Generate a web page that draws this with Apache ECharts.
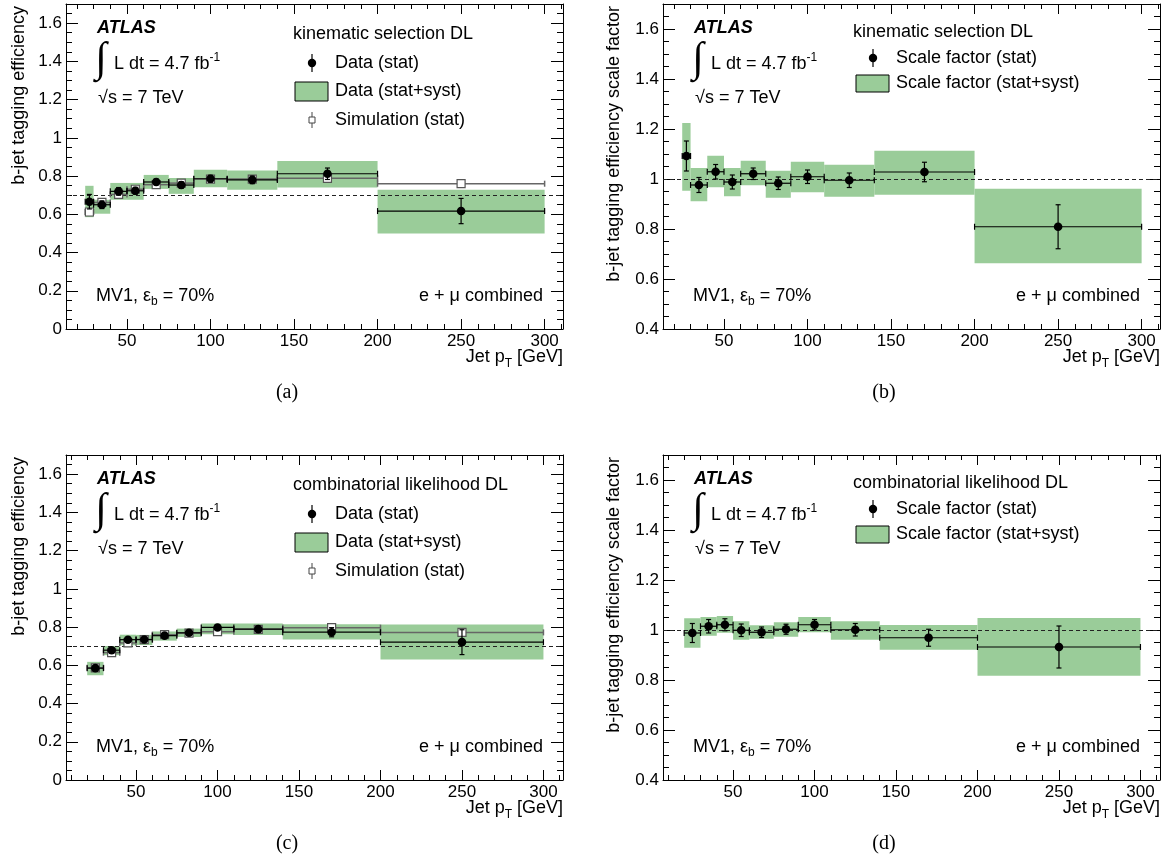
<!DOCTYPE html>
<html>
<head>
<meta charset="utf-8">
<script src="https://cdn.jsdelivr.net/npm/echarts@6.0.0/dist/echarts.min.js"></script>
<style>
  html, body { margin: 0; padding: 0; background: #fff; }
  #chart { width: 1172px; height: 865px; }
</style>
</head>
<body>
<div id="chart"></div>
<script>
// ---- data ----
// kinematic selection DL bins
var binLoKin = [25, 30, 40, 50, 60, 75, 90, 110, 140, 200];
var binHiKin = [30, 40, 50, 60, 75, 90, 110, 140, 200, 300];
var ptKin    = [27.5, 35, 45, 55, 67.5, 82.5, 100, 125, 170, 250];

var effKin       = [0.666, 0.650, 0.720, 0.723, 0.769, 0.753, 0.786, 0.780, 0.812, 0.617];
var effKinErr    = [0.038, 0.020, 0.020, 0.018, 0.015, 0.017, 0.018, 0.020, 0.030, 0.066];
var effKinSystLo = [0.585, 0.603, 0.676, 0.676, 0.733, 0.707, 0.742, 0.728, 0.740, 0.500];
var effKinSystHi = [0.749, 0.676, 0.764, 0.764, 0.806, 0.790, 0.833, 0.829, 0.879, 0.729];
var simKin       = [0.612, 0.662, 0.704, 0.731, 0.755, 0.763, 0.784, 0.784, 0.788, 0.760];
var simKinErr    = [0.010, 0.008, 0.008, 0.008, 0.007, 0.008, 0.008, 0.009, 0.010, 0.010];

var sfKin       = [1.092, 0.976, 1.029, 0.988, 1.021, 0.983, 1.009, 0.995, 1.028, 0.809];
var sfKinErr    = [0.060, 0.030, 0.029, 0.028, 0.023, 0.025, 0.027, 0.029, 0.039, 0.088];
var sfKinSystLo = [0.953, 0.911, 0.967, 0.931, 0.975, 0.925, 0.947, 0.929, 0.937, 0.663];
var sfKinSystHi = [1.224, 1.044, 1.093, 1.044, 1.073, 1.033, 1.069, 1.057, 1.113, 0.961];

// combinatorial likelihood DL bins
var binLoCmb = [20, 30, 40, 50, 60, 75, 90, 110, 140, 200];
var binHiCmb = [30, 40, 50, 60, 75, 90, 110, 140, 200, 300];
var ptCmb    = [25, 35, 45, 55, 67.5, 82.5, 100, 125, 170, 250];

var effCmb       = [0.585, 0.679, 0.734, 0.735, 0.755, 0.770, 0.798, 0.789, 0.773, 0.721];
var effCmbErr    = [0.014, 0.012, 0.012, 0.010, 0.010, 0.010, 0.012, 0.014, 0.024, 0.065];
var effCmbSystLo = [0.548, 0.653, 0.705, 0.706, 0.729, 0.748, 0.763, 0.759, 0.735, 0.630];
var effCmbSystHi = [0.618, 0.701, 0.760, 0.759, 0.777, 0.792, 0.819, 0.819, 0.815, 0.813];
var simCmb       = [0.587, 0.666, 0.717, 0.734, 0.760, 0.768, 0.776, 0.788, 0.797, 0.772];
var simCmbErr    = [0.008, 0.007, 0.007, 0.007, 0.007, 0.007, 0.008, 0.008, 0.010, 0.012];

var sfCmb       = [0.988, 1.015, 1.021, 0.999, 0.991, 1.003, 1.021, 1.001, 0.969, 0.932];
var sfCmbErr    = [0.038, 0.027, 0.024, 0.025, 0.021, 0.020, 0.021, 0.025, 0.034, 0.084];
var sfCmbSystLo = [0.929, 0.977, 0.989, 0.961, 0.965, 0.973, 0.991, 0.961, 0.921, 0.817];
var sfCmbSystHi = [1.047, 1.052, 1.056, 1.035, 1.019, 1.031, 1.052, 1.035, 1.020, 1.048];

// axis ticks
var ptTicks  = [50, 100, 150, 200, 250, 300];
var effTicks = [0, 0.2, 0.4, 0.6, 0.8, 1, 1.2, 1.4, 1.6];
var sfTicks  = [0.4, 0.6, 0.8, 1, 1.2, 1.4, 1.6];

// ---- drawing ----
var FONT = '"Liberation Sans", Arial, Helvetica, sans-serif';
var SERIF = '"Liberation Serif", "Times New Roman", serif';
var GREEN = '#9acc99';
var TXT = 18;

function steps(a, b, s) {
    var out = [];
    for (var v = a; v <= b + 1e-9; v += s) out.push(Math.round(v * 1000) / 1000);
    return out;
}

var xAxes = [], yAxes = [], grids = [], series = [], graphics = [];

function addAxes(g, xr, yr, yTicks) {
    var xi = xAxes.length, yi = yAxes.length;
    var xMinor = steps(Math.ceil(xr[0] / 10) * 10, xr[1], 10);
    var yMinor = steps(yr[0], yr[1], 0.05);
    ['bottom', 'top'].forEach(function(pos) {
        xAxes.push({
            gridIndex: g, type: 'value', position: pos, min: xr[0], max: xr[1],
            axisLine: { show: true, onZero: false, lineStyle: { color: '#000', width: 1 } },
            axisTick: { show: true, inside: true, length: 10, customValues: ptTicks, lineStyle: { color: '#000' } },
            axisLabel: { show: pos === 'bottom', customValues: ptTicks, color: '#000', fontFamily: FONT, fontSize: 17, margin: 4 },
            splitLine: { show: false }
        });
        xAxes.push({
            gridIndex: g, type: 'value', position: pos, min: xr[0], max: xr[1],
            axisLine: { show: false, onZero: false },
            axisTick: { show: true, inside: true, length: 5, customValues: xMinor, lineStyle: { color: '#000' } },
            axisLabel: { show: false },
            splitLine: { show: false }
        });
    });
    ['left', 'right'].forEach(function(pos) {
        yAxes.push({
            gridIndex: g, type: 'value', position: pos, min: yr[0], max: yr[1],
            axisLine: { show: true, onZero: false, lineStyle: { color: '#000', width: 1 } },
            axisTick: { show: true, inside: true, length: 12, customValues: yTicks, lineStyle: { color: '#000' } },
            axisLabel: {
                show: pos === 'left', customValues: yTicks, color: '#000', fontFamily: FONT, fontSize: 17, margin: 4,
                formatter: function(v) { return String(Math.round(v * 10) / 10); }
            },
            splitLine: { show: false }
        });
        yAxes.push({
            gridIndex: g, type: 'value', position: pos, min: yr[0], max: yr[1],
            axisLine: { show: false, onZero: false },
            axisTick: { show: true, inside: true, length: 6, customValues: yMinor, lineStyle: { color: '#000' } },
            axisLabel: { show: false },
            splitLine: { show: false }
        });
    });
    return [xi, yi];
}

function boxSeries(ax, lo, hi, sLo, sHi, ref) {
    return {
        type: 'custom', xAxisIndex: ax[0], yAxisIndex: ax[1], z: 1, silent: true,
        data: lo.map(function(v, i) { return [v, hi[i], sLo[i], sHi[i]]; }),
        encode: { x: [0, 1], y: [2, 3] },
        renderItem: function(params, api) {
            var a = api.coord([api.value(0), api.value(3)]);
            var b = api.coord([api.value(1), api.value(2)]);
            return { type: 'rect', shape: { x: a[0], y: a[1], width: b[0] - a[0], height: b[1] - a[1] }, style: { fill: GREEN } };
        },
        markLine: {
            silent: true, symbol: ['none', 'none'], label: { show: false }, z: 5,
            lineStyle: { color: '#222', width: 1, type: [4, 3] },
            data: [{ yAxis: ref }]
        }
    };
}

function pointSeries(ax, pt, lo, hi, val, err, sim) {
    var col = sim ? '#666' : '#000';
    return {
        type: 'custom', xAxisIndex: ax[0], yAxisIndex: ax[1], z: sim ? 6 : 8, silent: true,
        data: pt.map(function(x, i) { return [x, val[i], lo[i], hi[i], err[i]]; }),
        encode: { x: [0, 2, 3], y: [1] },
        renderItem: function(params, api) {
            var y = api.value(1), e = api.value(4);
            var c = api.coord([api.value(0), y]);
            var l = api.coord([api.value(2), y]);
            var r = api.coord([api.value(3), y]);
            var t = api.coord([api.value(0), y + e]);
            var b = api.coord([api.value(0), y - e]);
            var ls = { stroke: col, lineWidth: sim ? 1.5 : 1.2 };
            var kids = [
                { type: 'line', shape: { x1: l[0], y1: c[1], x2: r[0], y2: c[1] }, style: ls },
                { type: 'line', shape: { x1: l[0], y1: c[1] - 3, x2: l[0], y2: c[1] + 3 }, style: ls },
                { type: 'line', shape: { x1: r[0], y1: c[1] - 3, x2: r[0], y2: c[1] + 3 }, style: ls },
                { type: 'line', shape: { x1: c[0], y1: t[1], x2: c[0], y2: b[1] }, style: ls },
                { type: 'line', shape: { x1: c[0] - 2.5, y1: t[1], x2: c[0] + 2.5, y2: t[1] }, style: ls },
                { type: 'line', shape: { x1: c[0] - 2.5, y1: b[1], x2: c[0] + 2.5, y2: b[1] }, style: ls }
            ];
            if (sim) {
                kids.push({ type: 'rect', shape: { x: c[0] - 4, y: c[1] - 4, width: 8, height: 8 }, style: { fill: '#fff', stroke: '#555', lineWidth: 1.2 } });
            } else {
                kids.push({ type: 'circle', shape: { cx: c[0], cy: c[1], r: 4.3 }, style: { fill: '#000' } });
            }
            return { type: 'group', children: kids };
        }
    };
}

function txt(x, y, text, extra) {
    var st = { text: text, fill: '#000', font: TXT + 'px ' + FONT, textAlign: 'left', textVerticalAlign: 'middle' };
    for (var k in extra) st[k] = extra[k];
    return { type: 'text', x: x, y: y, silent: true, z: 100, style: st };
}

function richTxt(x, y, text, align, small, shift) {
    return {
        type: 'text', x: x, y: y, silent: true, z: 100,
        style: {
            text: text, textAlign: align, textVerticalAlign: 'middle',
            rich: {
                a: { fontSize: TXT, fontFamily: FONT, fill: '#000' },
                s: { fontSize: small, fontFamily: FONT, fill: '#000', padding: shift }
            }
        }
    };
}

function panelDecor(p) {
    var gx = p.gx, gy = p.gy;
    graphics.push(txt(gx + 31, gy + 24, 'ATLAS', { font: 'italic bold 18px ' + FONT }));
    graphics.push(txt(gx + 35, gy + 56, '\u222B', { font: '42px ' + SERIF, textAlign: 'center' }));
    graphics.push(richTxt(gx + 48, gy + 60, '{a|L dt = 4.7 fb}{s|-1}', 'left', 12, [0, 0, 12, 0]));
    graphics.push(txt(gx + 32, gy + 94, '\u221As = 7 TeV'));
    graphics.push(richTxt(gx + 30, gy + 292, '{a|MV1, \u03B5}{s|b}{a| = 70%}', 'left', 12, [12, 0, 0, 0]));
    graphics.push(txt(gx + 477, gy + 292, 'e + \u03BC combined', { textAlign: 'right' }));
    graphics.push(richTxt(gx + 497, gy + 353, '{a|Jet p}{s|T}{a| [GeV]}', 'right', 12, [14, 0, 0, 0]));
    graphics.push({
        type: 'text', x: p.titleX, y: gy + 2, rotation: Math.PI / 2, silent: true, z: 100,
        style: { text: p.yTitle, fill: '#000', font: TXT + 'px ' + FONT, textAlign: 'right', textVerticalAlign: 'middle' }
    });
    graphics.push(txt(gx + 221, gy + 389, p.tag, { font: '20px ' + SERIF, textAlign: 'center' }));

    var L = p.legend;
    graphics.push(txt(gx + L.hx, gy + L.hy, p.header));
    // filled circle with error bar
    graphics.push({ type: 'line', silent: true, z: 100, shape: { x1: gx + L.mx, y1: gy + L.dy - 9, x2: gx + L.mx, y2: gy + L.dy + 9 }, style: { stroke: '#000', lineWidth: 1.2 } });
    graphics.push({ type: 'circle', silent: true, z: 101, shape: { cx: gx + L.mx, cy: gy + L.dy, r: 4.2 }, style: { fill: '#000' } });
    graphics.push(txt(gx + L.tx, gy + L.dy, p.entries[0]));
    // green band
    graphics.push({ type: 'rect', silent: true, z: 100, shape: { x: gx + L.bx, y: gy + L.by, width: 33, height: L.bh }, style: { fill: GREEN, stroke: '#000', lineWidth: 1 } });
    graphics.push(txt(gx + L.tx, gy + L.by + L.bh / 2, p.entries[1]));
    if (p.entries[2]) {
        graphics.push({ type: 'line', silent: true, z: 100, shape: { x1: gx + L.mx, y1: gy + L.sy - 8, x2: gx + L.mx, y2: gy + L.sy + 8 }, style: { stroke: '#444', lineWidth: 1 } });
        graphics.push({ type: 'rect', silent: true, z: 101, shape: { x: gx + L.mx - 3, y: gy + L.sy - 3, width: 6, height: 6 }, style: { fill: '#fff', stroke: '#444', lineWidth: 1 } });
        graphics.push(txt(gx + L.tx, gy + L.sy, p.entries[2]));
    }
}

var effLegend = { hx: 227, hy: 30, mx: 246, dy: 59, tx: 269, bx: 229, by: 78, bh: 19, sy: 116 };
var sfLegend  = { hx: 190, hy: 28, mx: 210, dy: 54, tx: 233, bx: 193, by: 71, bh: 17 };

var panels = [
    { gx: 66,  gy: 4,   xr: [13.5, 311], yr: [0, 1.7],   ticks: effTicks, ref: 0.7, tag: '(a)', titleX: 19,  yTitle: 'b-jet tagging efficiency',
      header: 'kinematic selection DL', legend: effLegend, entries: ['Data (stat)', 'Data (stat+syst)', 'Simulation (stat)'],
      lo: binLoKin, hi: binHiKin, pt: ptKin, val: effKin, err: effKinErr, sLo: effKinSystLo, sHi: effKinSystHi, sim: simKin, simErr: simKinErr },
    { gx: 663, gy: 4,   xr: [13.5, 311], yr: [0.4, 1.7], ticks: sfTicks, ref: 1.0, tag: '(b)', titleX: 614, yTitle: 'b-jet tagging efficiency scale factor',
      header: 'kinematic selection DL', legend: sfLegend, entries: ['Scale factor (stat)', 'Scale factor (stat+syst)'],
      lo: binLoKin, hi: binHiKin, pt: ptKin, val: sfKin, err: sfKinErr, sLo: sfKinSystLo, sHi: sfKinSystHi },
    { gx: 66,  gy: 455, xr: [7, 312],    yr: [0, 1.7],   ticks: effTicks, ref: 0.7, tag: '(c)', titleX: 19,  yTitle: 'b-jet tagging efficiency',
      header: 'combinatorial likelihood DL', legend: effLegend, entries: ['Data (stat)', 'Data (stat+syst)', 'Simulation (stat)'],
      lo: binLoCmb, hi: binHiCmb, pt: ptCmb, val: effCmb, err: effCmbErr, sLo: effCmbSystLo, sHi: effCmbSystHi, sim: simCmb, simErr: simCmbErr },
    { gx: 663, gy: 455, xr: [7, 312],    yr: [0.4, 1.7], ticks: sfTicks, ref: 1.0, tag: '(d)', titleX: 614, yTitle: 'b-jet tagging efficiency scale factor',
      header: 'combinatorial likelihood DL', legend: sfLegend, entries: ['Scale factor (stat)', 'Scale factor (stat+syst)'],
      lo: binLoCmb, hi: binHiCmb, pt: ptCmb, val: sfCmb, err: sfCmbErr, sLo: sfCmbSystLo, sHi: sfCmbSystHi }
];

panels.forEach(function(p, g) {
    grids.push({ left: p.gx, top: p.gy, width: 497, height: 325, outerBoundsMode: 'none', containLabel: false });
    var ax = addAxes(g, p.xr, p.yr, p.ticks);
    series.push(boxSeries(ax, p.lo, p.hi, p.sLo, p.sHi, p.ref));
    if (p.sim) series.push(pointSeries(ax, p.pt, p.lo, p.hi, p.sim, p.simErr, true));
    series.push(pointSeries(ax, p.pt, p.lo, p.hi, p.val, p.err, false));
    panelDecor(p);
});

var myChart = echarts.init(document.getElementById('chart'), null, { renderer: 'canvas' });
var option = {
    animation: false,
    backgroundColor: '#fff',
    grid: grids,
    xAxis: xAxes,
    yAxis: yAxes,
    series: series,
    graphic: { elements: graphics }
};
myChart.setOption(option);
window.addEventListener('resize', function() { myChart.resize(); });
</script>
</body>
</html>
